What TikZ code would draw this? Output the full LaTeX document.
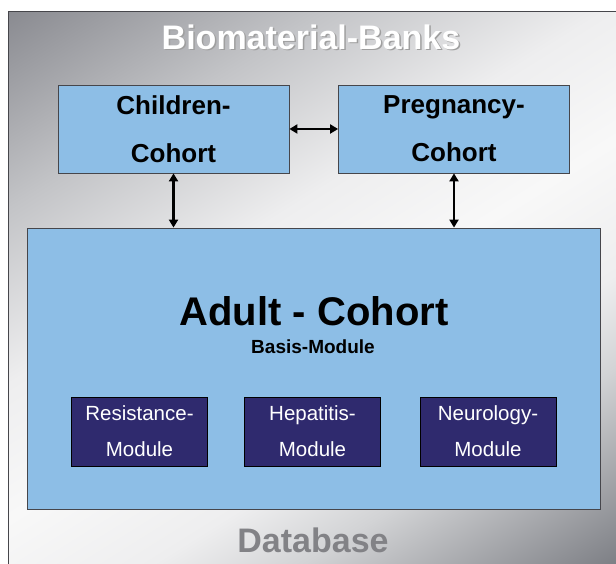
\documentclass[tikz,border=0pt]{standalone}
\usepackage{fontspec}
\setmainfont{Liberation Sans}
\usetikzlibrary{arrows.meta}
\usetikzlibrary{positioning}
\definecolor{mlblue}{RGB}{141,190,230}
\definecolor{mnavy}{RGB}{47,42,110}
\definecolor{mframe}{RGB}{70,70,75}
\definecolor{mtext}{RGB}{130,130,134}
\definecolor{bgtl}{RGB}{136,137,143}
\definecolor{bgmidt}{RGB}{195,196,199}
\definecolor{bglight}{RGB}{238,238,239}
\definecolor{bgwhite}{RGB}{248,248,248}
\definecolor{bgmidb}{RGB}{210,211,213}
\definecolor{bgbr}{RGB}{122,124,130}
\pgfdeclareverticalshading{bgshade}{100bp}{color(0bp)=(bgbr); color(15bp)=(bgbr); color(30bp)=(bgmidb); color(37bp)=(bglight); color(47bp)=(bgwhite); color(57bp)=(bglight); color(70bp)=(bgmidt); color(85bp)=(bgtl); color(100bp)=(bgtl)}
\tikzset{cohort/.style = {draw=mframe, fill=mlblue, line width=0.8pt, minimum width=231pt, minimum height=88pt, align=center, font=\bfseries\fontsize{26}{48}\selectfont}}
\tikzset{module/.style = {draw=black, fill=mnavy, line width=0.8pt, minimum width=136pt, minimum height=69pt, align=center, text=white, font=\fontsize{20.5}{36}\selectfont}}
\tikzset{link/.style = {line width=2.2pt, {Triangle[length=8pt, width=9pt]}-{Triangle[length=8pt, width=9pt]}}}
\tikzset{title/.style = {font=\bfseries\fontsize{34}{34}\selectfont}}

\begin{document}
\begin{tikzpicture}[x=1pt, y=1pt]
      \useasboundingbox (0,0) rectangle (616,564);
      \shade [shading=bgshade, shading angle=32] (8,-1) rectangle (617,552);
      \draw [mframe, line width=1pt] (8,-1) -- (8,552) -- (617,552);

      \node [title, text=gray!75] (shadow) at (312.5,525.5) {Biomaterial-Banks};
      \node [title, text=white] (title) at (311,527) {Biomaterial-Banks};

      \node [cohort] (child) at (173.5,435) {Children-\\Cohort};
      \node [cohort] (preg) at (454,435) {Pregnancy-\\Cohort};
      \node [draw=mframe, fill=mlblue, line width=0.8pt, minimum width=573pt, minimum height=281pt] (adult) at (313.5,195.5) {};
      \node [font=\bfseries\fontsize{40}{40}\selectfont] (adulttitle) at (314,253) {Adult - Cohort};
      \node [font=\bfseries\fontsize{19}{19}\selectfont] (basis) at (313,217) {Basis-Module};

      \node [module] (resist) at (139.5,132.5) {Resistance-\\Module};
      \node [module] (hepat) at (312.5,132.5) {Hepatitis-\\Module};
      \node [module] (neuro) at (488,132.5) {Neurology-\\Module};

      \node [text=mtext, font=\bfseries\fontsize{34}{34}\selectfont] (db) at (313,24) {Database};

      \draw [link] (child) -- (preg);
      \draw [link] (child.south) -- (child.south |- adult.north);
      \draw [link] (preg.south) -- (preg.south |- adult.north);
    \end{tikzpicture}
\end{document}
